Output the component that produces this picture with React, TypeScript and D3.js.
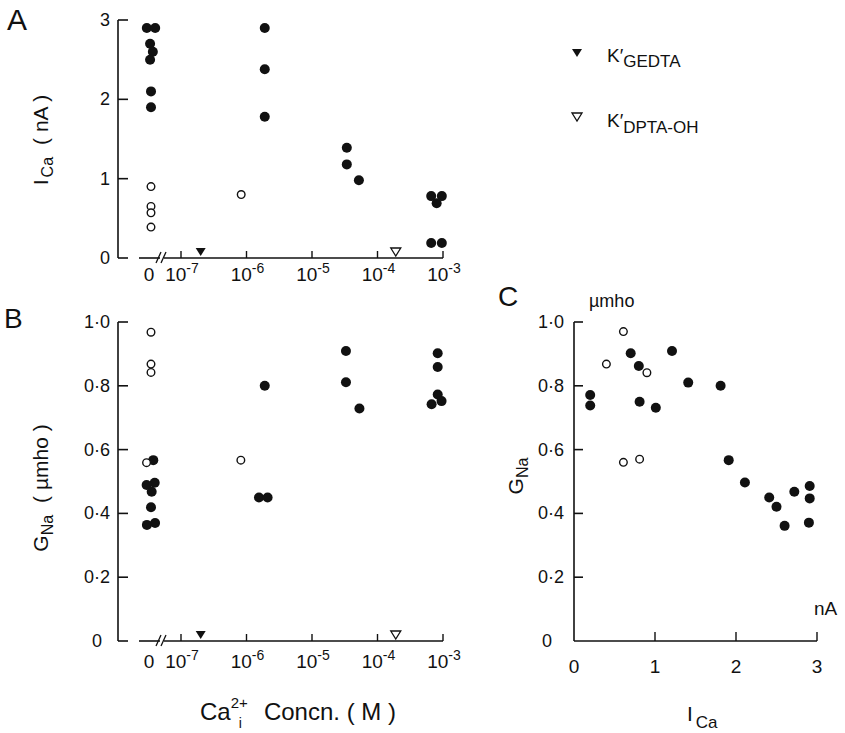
import React from 'react';
import * as d3 from 'd3';

// ---------- data ----------
const concTicks = [1e-7, 1e-6, 1e-5, 1e-4, 1e-3];
const concTickExps = ['-7', '-6', '-5', '-4', '-3'];
const icaTicks = [0, 1, 2, 3];
const icaTickLabels = ['0', '1', '2', '3'];
const gnaTicks = [0, 0.2, 0.4, 0.6, 0.8, 1.0];
const gnaTickLabels = ['0', '0·2', '0·4', '0·6', '0·8', '1·0'];
const icaCTicks = [0, 1, 2, 3];
const icaCTickLabels = ['0', '1', '2', '3'];

// Panel A: internal Ca concentration (M) vs I_Ca (nA)
const aFilledConc = [0, 0, 0, 0, 0, 0, 0, 1.9e-6, 1.9e-6, 1.9e-6, 3.4e-5, 3.4e-5, 5.2e-5, 6.6e-4, 9.6e-4, 8e-4, 6.6e-4, 9.6e-4];
const aFilledIca = [2.9, 2.9, 2.7, 2.6, 2.5, 2.1, 1.9, 2.9, 2.38, 1.78, 1.39, 1.18, 0.98, 0.78, 0.78, 0.69, 0.19, 0.19];
const aOpenConc = [0, 0, 0, 0, 8.3e-7];
const aOpenIca = [0.9, 0.65, 0.57, 0.39, 0.8];

// Panel B: internal Ca concentration (M) vs G_Na (µmho)
const bFilledConc = [0, 0, 0, 0, 0, 0, 0, 1.9e-6, 1.55e-6, 2.1e-6, 3.3e-5, 3.3e-5, 5.3e-5, 8.3e-4, 8.3e-4, 8.3e-4, 9.5e-4, 6.7e-4];
const bFilledGna = [0.567, 0.496, 0.489, 0.468, 0.419, 0.37, 0.364, 0.8, 0.45, 0.45, 0.909, 0.811, 0.729, 0.902, 0.859, 0.773, 0.752, 0.742];
const bOpenConc = [0, 0, 0, 0, 8.2e-7];
const bOpenGna = [0.968, 0.868, 0.842, 0.559, 0.567];

// dissociation constants marked on the concentration axis
const kGedta = 2e-7;
const kDptaOh = 1.9e-4;

// Panel C: I_Ca (nA) vs G_Na (µmho)
const cFilledIca = [0.2, 0.2, 0.7, 0.8, 0.81, 1.01, 1.21, 1.41, 1.81, 1.91, 2.11, 2.41, 2.5, 2.6, 2.72, 2.91, 2.91, 2.9];
const cFilledGna = [0.771, 0.738, 0.902, 0.862, 0.75, 0.731, 0.909, 0.81, 0.8, 0.567, 0.497, 0.45, 0.421, 0.361, 0.468, 0.486, 0.447, 0.371];
const cOpenIca = [0.61, 0.4, 0.9, 0.61, 0.81];
const cOpenGna = [0.97, 0.868, 0.841, 0.56, 0.57];

// ---------- layout ----------
const FONT = '"Liberation Sans", Arial, sans-serif';
const INK = '#111';
const RF = 5; // filled dot radius
const RO = 3.8; // open dot radius

const xLog = d3.scaleLog().domain([1e-7, 1e-3]).range([181, 443]);
const X_ZERO = 151;
const yA = d3.scaleLinear().domain([0, 3]).range([258, 20]);
const yB = d3.scaleLinear().domain([0, 1]).range([641, 322]);
const xC = d3.scaleLinear().domain([0, 3]).range([574, 817]);
const yC = d3.scaleLinear().domain([0, 1]).range([641, 322]);
const AXIS_X = 118;

type Node = { x: number; y: number; fy: number; r: number };

function dodgeZero(ys: number[], rs: number[], cx: number): number[] {
  const nodes: Node[] = ys.map((y, i) => ({ x: cx + (i % 2 === 0 ? -1 : 1) * 0.05 * (i + 1), y, fy: y, r: rs[i] }));
  const sim = d3
    .forceSimulation(nodes as any)
    .force('x', d3.forceX(cx).strength(0.1))
    .force('collide', d3.forceCollide((d: any) => d.r).strength(0.9).iterations(3))
    .stop();
  for (let i = 0; i < 300; i++) sim.tick();
  return nodes.map((n) => n.x);
}

const tri = (cx: number, cy: number) => `M${cx - 5},${cy - 4}L${cx + 5},${cy - 4}L${cx},${cy + 4}Z`;

function LogPanel(props: {
  y: d3.ScaleLinear<number, number>;
  ticks: number[];
  labels: string[];
  fConc: number[];
  fVal: number[];
  oConc: number[];
  oVal: number[];
  labelY: number;
}) {
  const { y, ticks, labels, fConc, fVal, oConc, oVal, labelY } = props;
  const axisY = y(0);
  const top = y(ticks[ticks.length - 1]);
  const zeroIdxF = fConc.map((c, i) => (c === 0 ? i : -1)).filter((i) => i >= 0);
  const zeroIdxO = oConc.map((c, i) => (c === 0 ? i : -1)).filter((i) => i >= 0);
  const zYs = [...zeroIdxF.map((i) => y(fVal[i])), ...zeroIdxO.map((i) => y(oVal[i]))];
  const zRs = [...zeroIdxF.map(() => 4.2), ...zeroIdxO.map(() => 3.0)];
  const zX = dodgeZero(zYs, zRs, X_ZERO);
  const fx = fConc.map((c, i) => (c === 0 ? zX[zeroIdxF.indexOf(i)] : xLog(c)));
  const ox = oConc.map((c, i) => (c === 0 ? zX[zeroIdxF.length + zeroIdxO.indexOf(i)] : xLog(c)));
  const xEnd = xLog(1e-3);
  return (
    <g>
      <line x1={AXIS_X} y1={top} x2={AXIS_X} y2={axisY} stroke={INK} strokeWidth={1.6} />
      {ticks.map((t, i) => (
        <g key={'yt' + i}>
          <line x1={AXIS_X} y1={y(t)} x2={AXIS_X + 10} y2={y(t)} stroke={INK} strokeWidth={1.6} />
          <text x={AXIS_X - (t === 0 && ticks.length > 4 ? 16 : 8)} y={y(t) + 6} textAnchor="end" fontSize={18} fontFamily={FONT} fill={INK}>
            {labels[i]}
          </text>
        </g>
      ))}
      <line x1={139} y1={axisY} x2={160} y2={axisY} stroke={INK} strokeWidth={1.6} />
      <line x1={156} y1={axisY + 5} x2={161} y2={axisY - 6} stroke={INK} strokeWidth={1.3} />
      <line x1={161} y1={axisY + 5} x2={166} y2={axisY - 6} stroke={INK} strokeWidth={1.3} />
      <line x1={164} y1={axisY} x2={xEnd} y2={axisY} stroke={INK} strokeWidth={1.6} />
      {concTicks.map((c, i) => (
        <g key={'xt' + i}>
          <line x1={xLog(c)} y1={axisY} x2={xLog(c)} y2={axisY - 7} stroke={INK} strokeWidth={1.4} />
          <text x={xLog(c) + 1} y={labelY} textAnchor="middle" fontSize={19} fontFamily={FONT} fill={INK}>
            10<tspan dy={-8} fontSize={14}>{concTickExps[i]}</tspan>
          </text>
        </g>
      ))}
      <text x={X_ZERO - 2} y={labelY} textAnchor="middle" fontSize={19} fontFamily={FONT} fill={INK}>0</text>
      <path d={tri(xLog(kGedta), axisY - 6)} fill={INK} />
      <path d={tri(xLog(kDptaOh), axisY - 6)} fill="#fff" stroke={INK} strokeWidth={1.3} />
      {fConc.map((c, i) => (
        <circle key={'f' + i} cx={fx[i]} cy={y(fVal[i])} r={RF} fill={INK} />
      ))}
      {oConc.map((c, i) => (
        <circle key={'o' + i} cx={ox[i]} cy={y(oVal[i])} r={RO} fill="#fff" stroke={INK} strokeWidth={1.4} />
      ))}
    </g>
  );
}

function PanelC() {
  const ax = xC(0);
  const ay = yC(0);
  return (
    <g>
      <line x1={ax} y1={yC(1)} x2={ax} y2={ay} stroke={INK} strokeWidth={1.6} />
      <line x1={ax} y1={ay} x2={xC(3)} y2={ay} stroke={INK} strokeWidth={1.6} />
      {gnaTicks.map((t, i) => (
        <g key={'cy' + i}>
          {t > 0 && <line x1={ax} y1={yC(t)} x2={ax + 9} y2={yC(t)} stroke={INK} strokeWidth={1.6} />}
          <text x={ax - (t === 0 ? 22 : 10)} y={yC(t) + 6} textAnchor="end" fontSize={18} fontFamily={FONT} fill={INK}>
            {gnaTickLabels[i]}
          </text>
        </g>
      ))}
      {icaCTicks.map((t, i) => (
        <g key={'cx' + i}>
          {t > 0 && <line x1={xC(t)} y1={ay} x2={xC(t)} y2={ay - 9} stroke={INK} strokeWidth={1.4} />}
          <text x={xC(t)} y={673} textAnchor="middle" fontSize={19} fontFamily={FONT} fill={INK}>
            {icaCTickLabels[i]}
          </text>
        </g>
      ))}
      {cFilledIca.map((v, i) => (
        <circle key={'cf' + i} cx={xC(v)} cy={yC(cFilledGna[i])} r={RF} fill={INK} />
      ))}
      {cOpenIca.map((v, i) => (
        <circle key={'co' + i} cx={xC(v)} cy={yC(cOpenGna[i])} r={RO} fill="#fff" stroke={INK} strokeWidth={1.4} />
      ))}
      <text x={814} y={615} fontSize={19} fontFamily={FONT} fill={INK}>nA</text>
      <text x={589} y={307} fontSize={18} fontFamily={FONT} fill={INK}>µmho</text>
      <text x={687} y={721} fontSize={21} fontFamily={FONT} fill={INK}>
        I<tspan dx={3} dy={7} fontSize={17}>Ca</tspan>
      </text>
      <text transform="translate(523,476) rotate(-90)" textAnchor="middle" fontSize={21} fontFamily={FONT} fill={INK}>
        G<tspan dy={5} fontSize={16}>Na</tspan>
      </text>
    </g>
  );
}

export default function App() {
  return (
    <svg width={845} height={733} style={{ position: 'absolute', left: 0, top: 0, background: '#fff' }}>
      <rect x={0} y={0} width={845} height={733} fill="#fff" />
      <text x={7} y={30} fontSize={30} fontFamily={FONT} fill={INK}>A</text>
      <text x={4} y={328} fontSize={28} fontFamily={FONT} fill={INK}>B</text>
      <text x={498} y={306} fontSize={28} fontFamily={FONT} fill={INK}>C</text>

      <LogPanel y={yA} ticks={icaTicks} labels={icaTickLabels} fConc={aFilledConc} fVal={aFilledIca} oConc={aOpenConc} oVal={aOpenIca} labelY={281} />
      <LogPanel y={yB} ticks={gnaTicks} labels={gnaTickLabels} fConc={bFilledConc} fVal={bFilledGna} oConc={bOpenConc} oVal={bOpenGna} labelY={668} />
      <PanelC />

      <text transform="translate(48,140) rotate(-90)" textAnchor="middle" fontSize={21} fontFamily={FONT} fill={INK}>
        I<tspan dx={2} dy={5} fontSize={16}>Ca</tspan>
        <tspan dx={12} dy={-5}>( nA )</tspan>
      </text>
      <text transform="translate(48,488) rotate(-90)" textAnchor="middle" fontSize={21} fontFamily={FONT} fill={INK}>
        G<tspan dy={5} fontSize={16}>Na</tspan>
        <tspan dx={12} dy={-5}>( µmho )</tspan>
      </text>
      <text x={200} y={720} fontSize={24} fontFamily={FONT} fill={INK}>
        Ca<tspan dy={-12} fontSize={15}>2+</tspan>
        <tspan dx={-9} dy={20} fontSize={14}>i</tspan>
        <tspan dx={22} dy={-8}>Concn. ( M )</tspan>
      </text>

      <path d={tri(577, 53)} fill={INK} />
      <text x={607} y={62} fontSize={19} fontFamily={FONT} fill={INK}>
        K′<tspan dy={5} fontSize={17}>GEDTA</tspan>
      </text>
      <path d={tri(577, 117)} fill="#fff" stroke={INK} strokeWidth={1.3} />
      <text x={607} y={127} fontSize={19} fontFamily={FONT} fill={INK}>
        K′<tspan dy={6} fontSize={17}>DPTA-OH</tspan>
      </text>
    </svg>
  );
}
